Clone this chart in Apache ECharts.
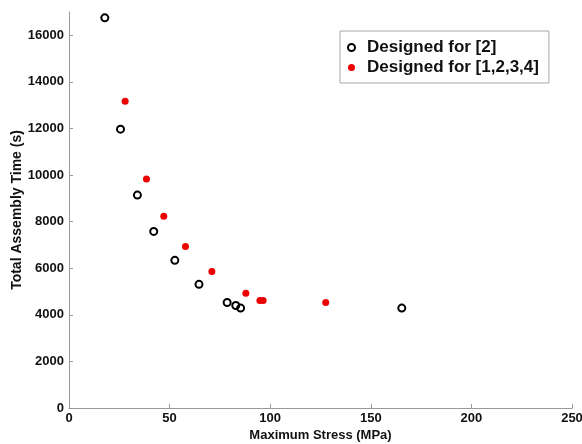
<!DOCTYPE html>
<html>
<head>
<meta charset="utf-8">
<script src="https://cdn.jsdelivr.net/npm/echarts@6/dist/echarts.min.js"></script>
<style>html,body{margin:0;padding:0;background:#fff;}#c{width:582px;height:444px;}</style>
</head>
<body>
<div id="c"></div>
<script>
// Designed for [2] (black open circles): [stress MPa, time s]
const seriesA = [
  [17.8, 16750], [25.6, 11970], [34.0, 9140], [42.1, 7580], [52.6, 6340],
  [64.6, 5310], [78.6, 4530], [82.9, 4400], [85.3, 4290], [165.4, 4290]
];
// Designed for [1,2,3,4] (red dots)
const seriesB = [
  [27.9, 13170], [38.5, 9830], [47.1, 8230], [57.9, 6930], [71.0, 5860],
  [87.9, 4930], [94.9, 4610], [96.5, 4610], [127.6, 4530]
];
const yTicks = [0, 2000, 4000, 6000, 8000, 10000, 12000, 14000, 16000];
const names = ['Designed for [2]', 'Designed for [1,2,3,4]'];

const FONT = '"Liberation Sans", Arial, Helvetica, sans-serif';
const chart = echarts.init(document.getElementById('c'), null, {renderer: 'canvas'});
chart.setOption({
  animation: false,
  backgroundColor: '#fff',
  grid: {left: 69, right: 10, top: 12, bottom: 36, containLabel: false, outerBoundsMode: 'none'},
  legend: {
    orient: 'vertical',
    left: 340, top: 31,
    padding: [8, 10, 7, 7],
    borderColor: '#a8a8a8', borderWidth: 1,
    backgroundColor: '#fff',
    itemWidth: 7, itemHeight: 7, itemGap: 3,
    textStyle: {fontFamily: FONT, fontSize: 17, fontWeight: 'bold', color: '#111', lineHeight: 16, padding: [0, 0, 0, 7]},
    data: [
      {name: names[0], icon: 'circle', itemStyle: {color: '#fff', borderColor: '#000', borderWidth: 2, opacity: 1}},
      {name: names[1], icon: 'circle', itemStyle: {color: '#ee0000', borderWidth: 0, opacity: 1}}
    ]
  },
  xAxis: {
    type: 'value', min: 0, max: 250, interval: 50,
    name: 'Maximum Stress (MPa)', nameLocation: 'middle', nameGap: 21, nameMoveOverlap: false,
    nameTextStyle: {fontFamily: FONT, fontSize: 13, fontWeight: 'bold', color: '#111'},
    axisLine: {show: true, lineStyle: {color: '#999', width: 1}},
    axisTick: {show: true, inside: true, length: 4, lineStyle: {color: '#999'}},
    axisLabel: {fontFamily: FONT, fontSize: 13, fontWeight: 'bold', color: '#111', margin: 4, formatter: v => String(v)},
    splitLine: {show: false}
  },
  yAxis: {
    type: 'value', min: 0, max: 17000,
    name: 'Total Assembly Time (s)', nameLocation: 'middle', nameGap: 45, nameMoveOverlap: false,
    nameTextStyle: {fontFamily: FONT, fontSize: 14, fontWeight: 'bold', color: '#111'},
    axisLine: {show: true, lineStyle: {color: '#999', width: 1}},
    axisTick: {show: true, inside: true, length: 4, lineStyle: {color: '#999'}, customValues: yTicks},
    axisLabel: {fontFamily: FONT, fontSize: 13, fontWeight: 'bold', color: '#111', margin: 5, customValues: yTicks, formatter: v => String(v)},
    splitLine: {show: false}
  },
  series: [
    {
      name: names[0], type: 'scatter', data: seriesA,
      symbol: 'circle', symbolSize: 7,
      itemStyle: {color: 'rgba(0,0,0,0)', borderColor: '#000', borderWidth: 2, opacity: 1}
    },
    {
      name: names[1], type: 'scatter', data: seriesB,
      symbol: 'circle', symbolSize: 7,
      itemStyle: {color: '#ee0000', borderWidth: 0, opacity: 1}
    }
  ]
});
</script>
</body>
</html>
